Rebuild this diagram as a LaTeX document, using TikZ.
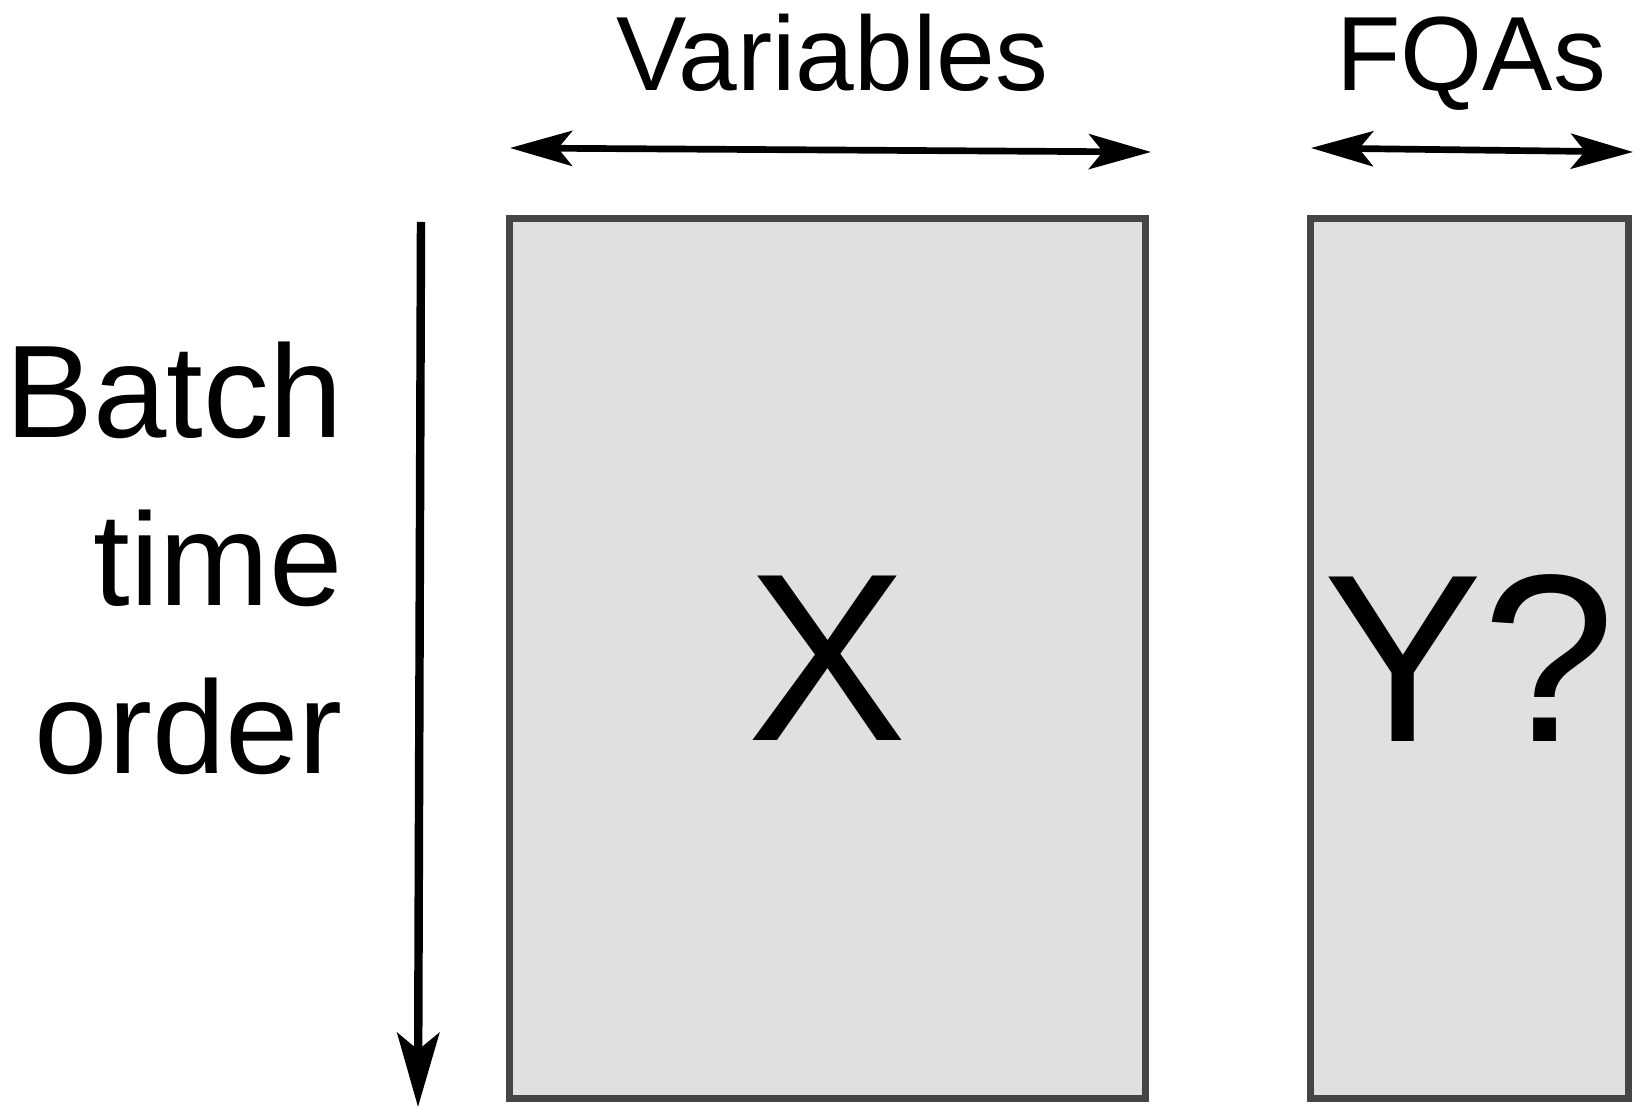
\documentclass[tikz,border=0pt]{standalone}
\usepackage{fontspec}
\setmainfont{Liberation Sans}
\usetikzlibrary{arrows.meta}
\begin{document}
\begin{tikzpicture}[x=0.01cm, y=-0.01cm, thick, line width=1.9pt,
  block/.style={draw=black!73, fill=black!12, inner sep=0pt, minimum height=8.8cm, font=\fontsize{68}{72}\selectfont},
  heading/.style={anchor=base, font=\fontsize{30}{34}\selectfont},
  span/.style={{Stealth[length=0.62cm, width=0.35cm, inset=0.14cm]}-{Stealth[length=0.62cm, width=0.35cm, inset=0.14cm]}},
  down/.style={line width=2.4pt, -{Stealth[length=0.74cm, width=0.42cm, inset=0.17cm]}}]
\useasboundingbox (0,0) rectangle (1643,1116);

\node[block, minimum width=6.36cm] (X) at (827.5,658.5) {X};
\node[block, minimum width=3.18cm] (Y) at (1469.5,658.5) {Y?};

\node[heading] (vars) at (832,91) {Variables};
\node[heading] (fqas) at (1471,91) {FQAs};
\node[align=right, anchor=east, inner sep=0pt, font=\fontsize{37.5}{47.8}\selectfont] (batch) at (346,558) {Batch\\time\\order};

\coordinate (vl) at (510,148);
\coordinate (vr) at (1151,152);
\coordinate (fl) at (1311,148);
\coordinate (fr) at (1633,152);
\coordinate (ttop) at (421,222);
\coordinate (tbot) at (418,1107);

\draw[span] (vl) -- (vr);
\draw[span] (fl) -- (fr);
\draw[down] (ttop) -- (tbot);
\end{tikzpicture}
\end{document}
